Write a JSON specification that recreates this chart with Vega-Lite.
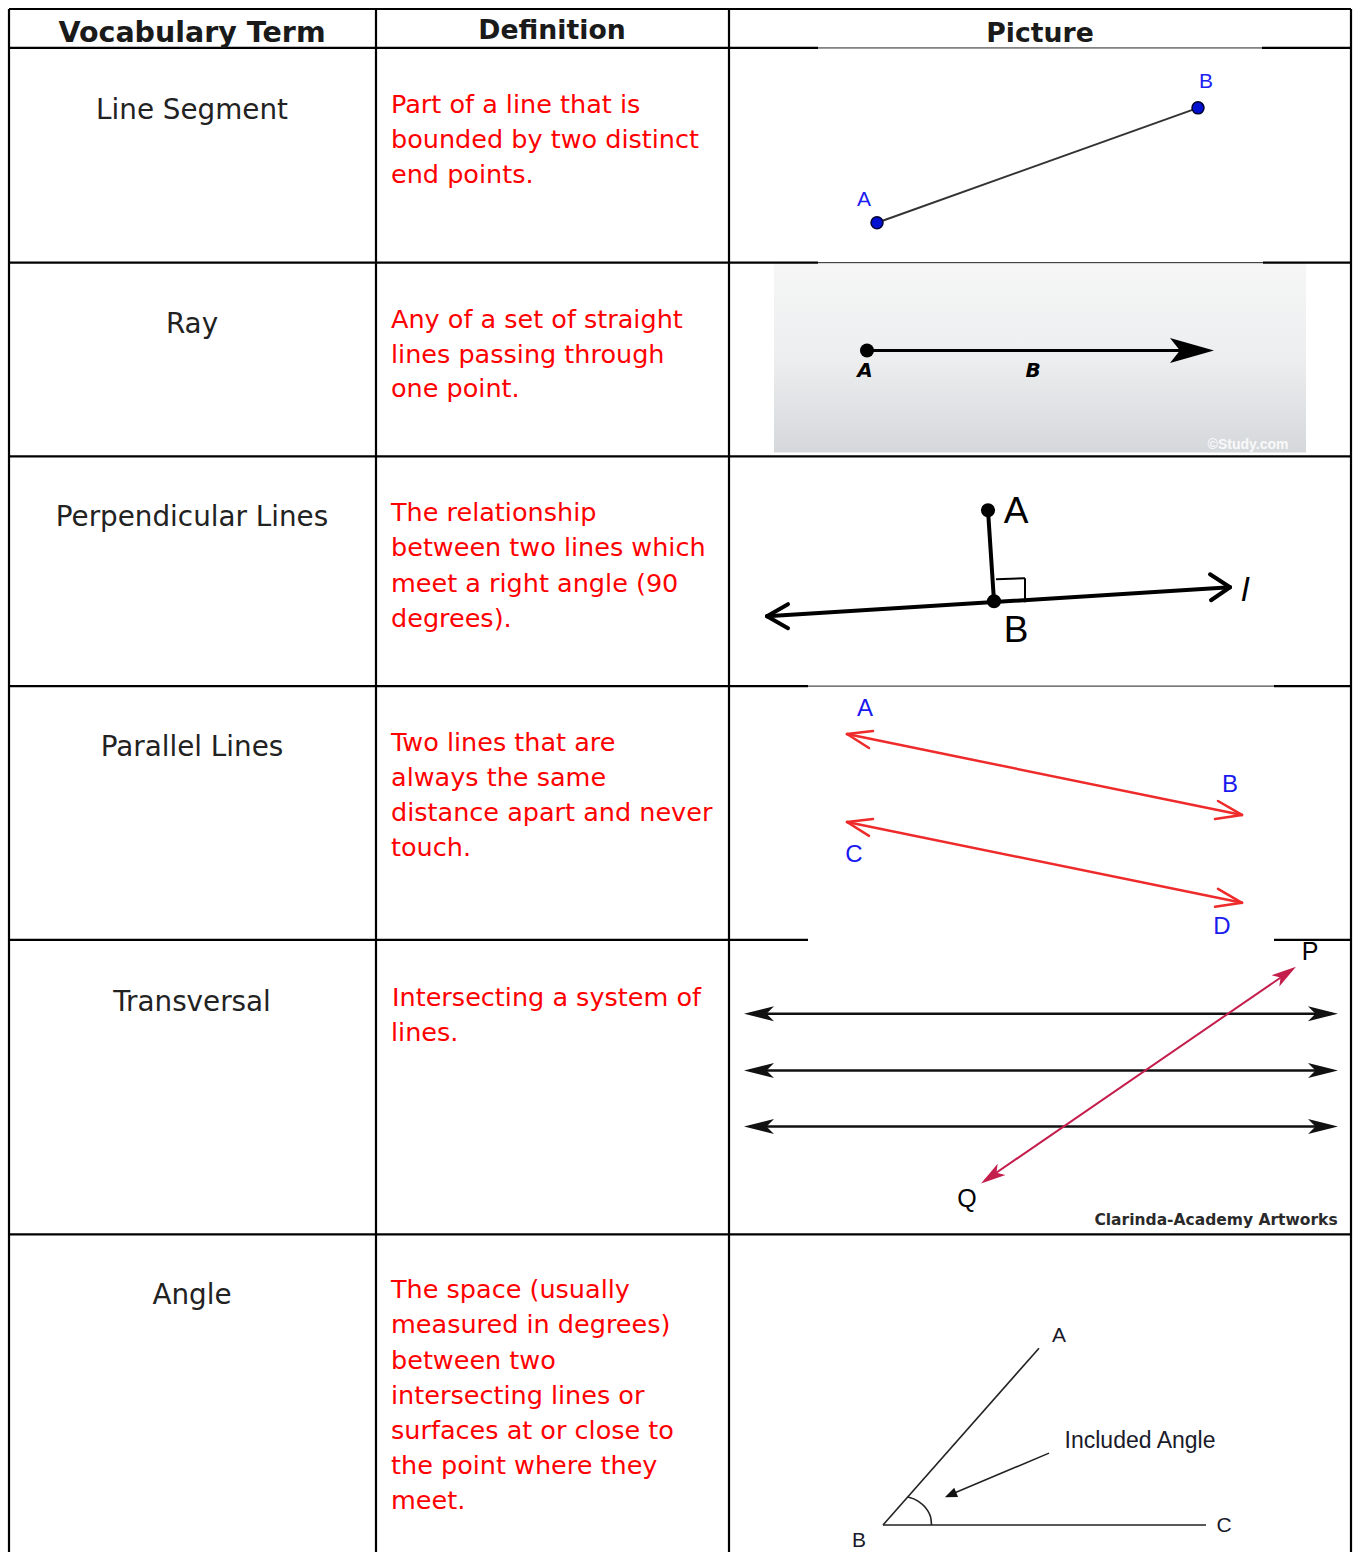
{
"$schema": "https://vega.github.io/schema/vega-lite/v6.json",
"width": 1353, "height": 1554,
"autosize": {"type": "fit", "contains": "padding"},
"padding": 0,
"background": "white",
"config": {"view": {"stroke": null}},
"datasets": {
"thick": [
{"x":9,"y":9,"x2":1351,"y2":9},
{"x":9,"y":48,"x2":818,"y2":48},{"x":1262,"y":48,"x2":1351,"y2":48},
{"x":9,"y":263,"x2":818,"y2":263},{"x":1263,"y":263,"x2":1351,"y2":263},
{"x":9,"y":457,"x2":1351,"y2":457},
{"x":9,"y":687,"x2":808,"y2":687},{"x":1274,"y":687,"x2":1351,"y2":687},
{"x":9,"y":941,"x2":808,"y2":941},{"x":1274,"y":941,"x2":1351,"y2":941},
{"x":9,"y":1236,"x2":1351,"y2":1236},
{"x":9,"y":9,"x2":9,"y2":1554},
{"x":376,"y":9,"x2":376,"y2":1554},
{"x":729,"y":9,"x2":729,"y2":1554},
{"x":1351,"y":9,"x2":1351,"y2":1554}
],
"thin": [
{"x":818,"y":48,"x2":1262,"y2":48},
{"x":818,"y":263,"x2":1263,"y2":263},
{"x":808,"y":687,"x2":1274,"y2":687}
],
"head1": [{"x":192,"y":42,"t":"Vocabulary Term"}],
"head2": [{"x":552,"y":39,"t":"Definition"},{"x":1040,"y":42,"t":"Picture"}],
"terms": [
{"x":192,"y":119,"t":"Line Segment"},
{"x":192,"y":333,"t":"Ray"},
{"x":192,"y":527,"t":"Perpendicular Lines"},
{"x":192,"y":757,"t":"Parallel Lines"},
{"x":192,"y":1012,"t":"Transversal"},
{"x":192,"y":1306,"t":"Angle"}
],
"defs": [
{"x":391,"y":113,"t":"Part of a line that is"},
{"x":391,"y":148,"t":"bounded by two distinct"},
{"x":391,"y":183,"t":"end points."},
{"x":391,"y":328,"t":"Any of a set of straight"},
{"x":391,"y":363,"t":"lines passing through"},
{"x":391,"y":398,"t":"one point."},
{"x":391,"y":522,"t":"The relationship"},
{"x":391,"y":557,"t":"between two lines which"},
{"x":391,"y":593,"t":"meet a right angle (90"},
{"x":391,"y":628,"t":"degrees)."},
{"x":391,"y":752,"t":"Two lines that are"},
{"x":391,"y":787,"t":"always the same"},
{"x":391,"y":822,"t":"distance apart and never"},
{"x":391,"y":857,"t":"touch."},
{"x":392,"y":1007,"t":"Intersecting a system of"},
{"x":391,"y":1042,"t":"lines."},
{"x":391,"y":1300,"t":"The space (usually"},
{"x":391,"y":1335,"t":"measured in degrees)"},
{"x":391,"y":1371,"t":"between two"},
{"x":391,"y":1406,"t":"intersecting lines or"},
{"x":391,"y":1441,"t":"surfaces at or close to"},
{"x":391,"y":1476,"t":"the point where they"},
{"x":391,"y":1511,"t":"meet."}
],
"seg": [{"x":877,"y":223,"x2":1198,"y2":108}],
"segpts": [{"x":877,"y":223},{"x":1198,"y":108}],
"seglab": [{"x":864,"y":206,"t":"A"},{"x":1206,"y":88,"t":"B"}],
"raybg": [{"x":774,"y":263,"x2":1306,"y2":453}],
"ray": [{"x":867,"y":351,"x2":1185,"y2":351}],
"raypt": [{"x":867,"y":351}],
"rayhead": [{"x":1192,"y":351}],
"raylab": [{"x":865,"y":377,"t":"A"},{"x":1033,"y":377,"t":"B"}],
"raywm": [{"x":1248,"y":450,"t":"©Study.com"}],
"perp": [
{"x":767,"y":617,"x2":1230,"y2":588},
{"x":988,"y":511,"x2":994,"y2":602},
{"x":767,"y":617,"x2":788,"y2":605},
{"x":767,"y":617,"x2":788,"y2":629},
{"x":1230,"y":588,"x2":1210,"y2":575},
{"x":1230,"y":588,"x2":1211,"y2":601}
],
"perpsq": [
{"x":996,"y":580,"x2":1025,"y2":579},
{"x":1025,"y":579,"x2":1025,"y2":603}
],
"perppts": [{"x":988,"y":511},{"x":994,"y":602}],
"perplab": [{"x":1016,"y":524,"t":"A"},{"x":1016,"y":643,"t":"B"}],
"perpl": [{"x":1245,"y":602,"t":"l"}],
"par": [
{"x":847,"y":735,"x2":1242,"y2":816},
{"x":847,"y":735,"x2":873,"y2":732},
{"x":847,"y":735,"x2":869,"y2":749},
{"x":1242,"y":816,"x2":1218,"y2":802},
{"x":1242,"y":816,"x2":1215,"y2":820},
{"x":847,"y":823,"x2":1242,"y2":904},
{"x":847,"y":823,"x2":873,"y2":820},
{"x":847,"y":823,"x2":869,"y2":837},
{"x":1242,"y":904,"x2":1218,"y2":890},
{"x":1242,"y":904,"x2":1215,"y2":908}
],
"parlab": [
{"x":865,"y":717,"t":"A"},
{"x":1230,"y":793,"t":"B"},
{"x":854,"y":863,"t":"C"},
{"x":1222,"y":935,"t":"D"}
],
"trh": [
{"x":750,"y":1015,"x2":1332,"y2":1015},
{"x":750,"y":1072,"x2":1332,"y2":1072},
{"x":750,"y":1128,"x2":1332,"y2":1128}
],
"trl": [{"x":759,"y":1015},{"x":759,"y":1072},{"x":759,"y":1128}],
"trr": [{"x":1323,"y":1015},{"x":1323,"y":1072},{"x":1323,"y":1128}],
"trd": [{"x":985,"y":1182,"x2":1292,"y2":971}],
"trp": [{"x":1285.7,"y":975.1}],
"trq": [{"x":991.3,"y":1177.9}],
"trlab": [{"x":1310,"y":961,"t":"P"},{"x":967,"y":1209,"t":"Q"}],
"trwm": [{"x":1216,"y":1227,"t":"Clarinda-Academy Artworks"}],
"ang": [
{"x":883,"y":1527,"x2":1039,"y2":1350},
{"x":883,"y":1527,"x2":1206,"y2":1527},
{"x":1049,"y":1455,"x2":952,"y2":1496}
],
"arc": [
{"x":908,"y":1499},{"x":918,"y":1503},{"x":925,"y":1509},{"x":929,"y":1515},{"x":931,"y":1521},{"x":931.5,"y":1527}
],
"anghead": [{"x":950.5,"y":1496.7}],
"anglab": [
{"x":1059,"y":1344,"t":"A"},
{"x":1224,"y":1534,"t":"C"},
{"x":859,"y":1549,"t":"B"}
],
"angtxt": [{"x":1140,"y":1450,"t":"Included Angle"}]
},
"encoding": {
"x": {"field":"x","type":"quantitative","scale":{"domain":[0,1353],"nice":false,"zero":false},"axis":null},
"y": {"field":"y","type":"quantitative","scale":{"domain":[0,1554],"nice":false,"zero":false,"reverse":true},"axis":null}
},
"layer": [
{"data":{"name":"raybg"},"mark":{"type":"rect","color":{"gradient":"linear","x1":0,"y1":0,"x2":0,"y2":1,"stops":[{"offset":0,"color":"#f6f6f6"},{"offset":0.5,"color":"#eceeef"},{"offset":1,"color":"#d5d8db"}]}},
 "encoding":{"x2":{"field":"x2"},"y2":{"field":"y2"}}},
{"data":{"name":"thick"},"mark":{"type":"rule","color":"#000000","strokeWidth":2.2},
 "encoding":{"x2":{"field":"x2"},"y2":{"field":"y2"}}},
{"data":{"name":"thin"},"mark":{"type":"rule","color":"#222222","strokeWidth":1},
 "encoding":{"x2":{"field":"x2"},"y2":{"field":"y2"}}},
{"data":{"name":"head1"},"mark":{"type":"text","font":"DejaVu Sans","fontWeight":"bold","fontSize":28.5,"align":"center","baseline":"alphabetic","color":"#1a1a1a"},
 "encoding":{"text":{"field":"t"}}},
{"data":{"name":"head2"},"mark":{"type":"text","font":"DejaVu Sans","fontWeight":"bold","fontSize":26.7,"align":"center","baseline":"alphabetic","color":"#1a1a1a"},
 "encoding":{"text":{"field":"t"}}},
{"data":{"name":"terms"},"mark":{"type":"text","font":"DejaVu Sans","fontSize":27.8,"align":"center","baseline":"alphabetic","color":"#222222"},
 "encoding":{"text":{"field":"t"}}},
{"data":{"name":"defs"},"mark":{"type":"text","font":"DejaVu Sans","fontSize":25.5,"align":"left","baseline":"alphabetic","color":"#ff0000"},
 "encoding":{"text":{"field":"t"}}},
{"data":{"name":"seg"},"mark":{"type":"rule","color":"#333333","strokeWidth":2},
 "encoding":{"x2":{"field":"x2"},"y2":{"field":"y2"}}},
{"data":{"name":"segpts"},"mark":{"type":"point","shape":"circle","filled":true,"size":144,"fill":"#0010d0","stroke":"#000033","strokeWidth":1.5,"opacity":1}},
{"data":{"name":"seglab"},"mark":{"type":"text","font":"Liberation Sans Narrow, Liberation Sans","fontSize":21,"align":"center","baseline":"alphabetic","color":"#2020f0"},
 "encoding":{"text":{"field":"t"}}},
{"data":{"name":"ray"},"mark":{"type":"rule","color":"#000000","strokeWidth":3},
 "encoding":{"x2":{"field":"x2"},"y2":{"field":"y2"}}},
{"data":{"name":"raypt"},"mark":{"type":"point","shape":"circle","filled":true,"size":196,"color":"#000000","opacity":1}},
{"data":{"name":"rayhead"},"mark":{"type":"point","shape":"M1,0L-1,-0.57L-0.55,0L-1,0.57Z","filled":true,"size":1936,"color":"#000000","opacity":1}},
{"data":{"name":"raylab"},"mark":{"type":"text","font":"DejaVu Sans","fontSize":20,"fontWeight":"bold","fontStyle":"italic","align":"center","baseline":"alphabetic","color":"#000000"},
 "encoding":{"text":{"field":"t"}}},
{"data":{"name":"raywm"},"mark":{"type":"text","font":"Liberation Sans","fontSize":14,"fontWeight":"bold","align":"center","baseline":"alphabetic","color":"#ffffff","opacity":0.85},
 "encoding":{"text":{"field":"t"}}},
{"data":{"name":"perp"},"mark":{"type":"rule","color":"#000000","strokeWidth":4,"strokeCap":"round"},
 "encoding":{"x2":{"field":"x2"},"y2":{"field":"y2"}}},
{"data":{"name":"perpsq"},"mark":{"type":"rule","color":"#000000","strokeWidth":2},
 "encoding":{"x2":{"field":"x2"},"y2":{"field":"y2"}}},
{"data":{"name":"perppts"},"mark":{"type":"point","shape":"circle","filled":true,"size":200,"color":"#000000","opacity":1}},
{"data":{"name":"perplab"},"mark":{"type":"text","font":"Liberation Sans","fontSize":37,"align":"center","baseline":"alphabetic","color":"#000000"},
 "encoding":{"text":{"field":"t"}}},
{"data":{"name":"perpl"},"mark":{"type":"text","font":"Liberation Sans","fontSize":34,"fontStyle":"italic","align":"center","baseline":"alphabetic","color":"#000000"},
 "encoding":{"text":{"field":"t"}}},
{"data":{"name":"par"},"mark":{"type":"rule","color":"#ee2a2a","strokeWidth":2.5,"strokeCap":"round"},
 "encoding":{"x2":{"field":"x2"},"y2":{"field":"y2"}}},
{"data":{"name":"parlab"},"mark":{"type":"text","font":"Liberation Sans","fontSize":24,"align":"center","baseline":"alphabetic","color":"#1a1aee"},
 "encoding":{"text":{"field":"t"}}},
{"data":{"name":"trh"},"mark":{"type":"rule","color":"#111111","strokeWidth":2.5},
 "encoding":{"x2":{"field":"x2"},"y2":{"field":"y2"}}},
{"data":{"name":"trl"},"mark":{"type":"point","shape":"M1,0L-1,-0.5L-0.5,0L-1,0.5Z","angle":180,"filled":true,"size":900,"color":"#111111","opacity":1}},
{"data":{"name":"trr"},"mark":{"type":"point","shape":"M1,0L-1,-0.5L-0.5,0L-1,0.5Z","angle":0,"filled":true,"size":900,"color":"#111111","opacity":1}},
{"data":{"name":"trd"},"mark":{"type":"rule","color":"#c41e4c","strokeWidth":2},
 "encoding":{"x2":{"field":"x2"},"y2":{"field":"y2"}}},
{"data":{"name":"trp"},"mark":{"type":"point","shape":"M1,0L-1,-0.55L-0.5,0L-1,0.55Z","angle":-34.6,"filled":true,"size":625,"color":"#c41e4c","opacity":1}},
{"data":{"name":"trq"},"mark":{"type":"point","shape":"M1,0L-1,-0.55L-0.5,0L-1,0.55Z","angle":145.4,"filled":true,"size":625,"color":"#c41e4c","opacity":1}},
{"data":{"name":"trlab"},"mark":{"type":"text","font":"Liberation Sans","fontSize":25,"align":"center","baseline":"alphabetic","color":"#000000"},
 "encoding":{"text":{"field":"t"}}},
{"data":{"name":"trwm"},"mark":{"type":"text","font":"DejaVu Sans","fontSize":15.5,"fontWeight":"bold","align":"center","baseline":"alphabetic","color":"#2a2a2a"},
 "encoding":{"text":{"field":"t"}}},
{"data":{"name":"ang"},"mark":{"type":"rule","color":"#222222","strokeWidth":1.6},
 "encoding":{"x2":{"field":"x2"},"y2":{"field":"y2"}}},
{"data":{"name":"arc"},"mark":{"type":"line","color":"#222222","strokeWidth":1.6,"interpolate":"monotone"},
 "encoding":{}},
{"data":{"name":"anghead"},"mark":{"type":"point","shape":"M1,0L-1,-0.8L-1,0.8Z","angle":157,"filled":true,"size":150,"color":"#111111","opacity":1}},
{"data":{"name":"anglab"},"mark":{"type":"text","font":"Liberation Sans","fontSize":21,"align":"center","baseline":"alphabetic","color":"#1a1a2a"},
 "encoding":{"text":{"field":"t"}}},
{"data":{"name":"angtxt"},"mark":{"type":"text","font":"Liberation Sans","fontSize":23,"align":"center","baseline":"alphabetic","color":"#1a1a2a"},
 "encoding":{"text":{"field":"t"}}}
]
}
